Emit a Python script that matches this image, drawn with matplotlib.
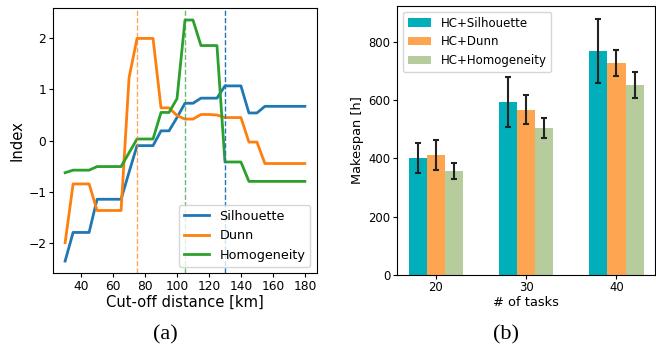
import numpy as np
import matplotlib.pyplot as plt

# (a) index curves vs cut-off distance
dist = list(range(30, 185, 5))
silhouette = [-2.36, -1.80, -1.80, -1.80, -1.15, -1.15, -1.15, -1.15, -0.62, -0.10,
              -0.10, -0.10, 0.19, 0.19, 0.45, 0.73, 0.73, 0.83, 0.83, 0.83,
              1.07, 1.07, 1.07, 0.54, 0.54, 0.67, 0.67, 0.67, 0.67, 0.67, 0.67]
dunn = [-2.00, -0.85, -0.85, -0.85, -1.37, -1.37, -1.37, -1.37, 1.23, 2.00,
        2.00, 2.00, 0.64, 0.64, 0.49, 0.42, 0.42, 0.51, 0.51, 0.50,
        0.45, 0.45, 0.45, -0.03, -0.03, -0.45, -0.45, -0.45, -0.45, -0.45, -0.45]
homogeneity = [-0.63, -0.58, -0.58, -0.58, -0.51, -0.51, -0.51, -0.51, -0.24, 0.03,
               0.03, 0.03, 0.55, 0.55, 0.82, 2.36, 2.36, 1.86, 1.86, 1.86,
               -0.42, -0.42, -0.42, -0.80, -0.80, -0.80, -0.80, -0.80, -0.80, -0.80, -0.80]
best_cut = {'Silhouette': 130, 'Dunn': 75, 'Homogeneity': 105}

# (b) makespan bars
tasks = ['20', '30', '40']
methods = ['HC+Silhouette', 'HC+Dunn', 'HC+Homogeneity']
makespan = [[401, 593, 768],
            [411, 566, 727],
            [357, 504, 651]]
makespan_err = [[52, 85, 110],
                [52, 50, 45],
                [28, 35, 45]]
bar_colors = ['#00afb9', '#fea552', '#b6cc9c']

fig = plt.figure(figsize=(6.56, 3.47), dpi=100)

ax1 = plt.axes([0.081, 0.213, 0.402, 0.764])
ax1.plot(dist, silhouette, color='C0', lw=2, label='Silhouette')
ax1.plot(dist, dunn, color='C1', lw=2, label='Dunn')
ax1.plot(dist, homogeneity, color='C2', lw=2, label='Homogeneity')
ax1.axvline(best_cut['Dunn'], color='C1', ls='--', lw=1, alpha=0.7)
ax1.axvline(best_cut['Homogeneity'], color='C2', ls='--', lw=1, alpha=0.7)
ax1.axvline(best_cut['Silhouette'], color='C0', ls='--', lw=1)
ax1.set_xticks([40, 60, 80, 100, 120, 140, 160, 180])
ax1.set_yticks([-2, -1, 0, 1, 2])
ax1.tick_params(labelsize=8.8, length=3, pad=2)
ax1.set_xlabel('Cut-off distance [km]', fontsize=10.6, labelpad=1)
ax1.set_ylabel('Index', fontsize=10.6, labelpad=3)
ax1.legend(loc='lower right', fontsize=9.2)

ax2 = plt.axes([0.605, 0.207, 0.394, 0.776])
x = np.arange(len(tasks))
w = 0.2
for i in range(3):
    ax2.bar(x + (i - 1) * w, makespan[i], w, yerr=makespan_err[i], color=bar_colors[i],
            label=methods[i], capsize=2.2, error_kw=dict(ecolor='#222222', elinewidth=1.5, capthick=1.5))
ax2.set_xticks(x)
ax2.set_xticklabels(tasks)
ax2.set_yticks([0, 200, 400, 600, 800])
ax2.tick_params(labelsize=8.4, length=3, pad=1.5)
ax2.set_xlabel('# of tasks', fontsize=9.4, labelpad=1)
ax2.set_ylabel('Makespan [h]', fontsize=9.4, labelpad=3)
ax2.legend(loc='upper left', fontsize=8.5)

fig.text(0.252, 0.036, '(a)', family='Liberation Serif', fontsize=16, ha='center', va='center')
fig.text(0.771, 0.036, '(b)', family='Liberation Serif', fontsize=16, ha='center', va='center')

plt.savefig('out.png', dpi=100)
